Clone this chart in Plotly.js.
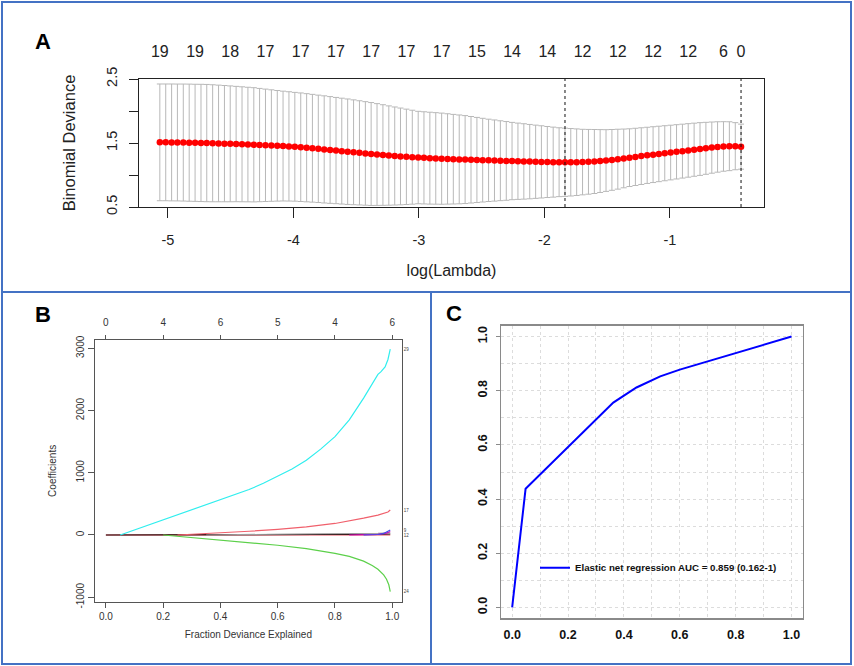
<!DOCTYPE html>
<html>
<head>
<meta charset="utf-8">
<script src="https://cdn.plot.ly/plotly-3.0.1.min.js"></script>
<style>html,body{margin:0;padding:0;background:#fff}#chart{width:854px;height:666px}</style>
</head>
<body>
<div id="chart"></div>
<script>
// ---------- Panel A: cross-validated binomial deviance ----------
const logLambda = [
-5.065,-5.018,-4.971,-4.925,-4.878,-4.831,-4.784,-4.737,-4.691,-4.644,
-4.597,-4.550,-4.504,-4.457,-4.410,-4.363,-4.316,-4.270,-4.223,-4.176,
-4.129,-4.083,-4.036,-3.989,-3.942,-3.895,-3.849,-3.802,-3.755,-3.708,
-3.661,-3.615,-3.568,-3.521,-3.474,-3.427,-3.381,-3.334,-3.287,-3.240,
-3.193,-3.147,-3.100,-3.053,-3.006,-2.960,-2.913,-2.866,-2.819,-2.772,
-2.726,-2.679,-2.632,-2.585,-2.538,-2.492,-2.445,-2.398,-2.351,-2.304,
-2.258,-2.211,-2.164,-2.117,-2.070,-2.024,-1.977,-1.930,-1.883,-1.836,
-1.790,-1.743,-1.696,-1.649,-1.602,-1.556,-1.509,-1.462,-1.415,-1.368,
-1.322,-1.275,-1.228,-1.181,-1.134,-1.088,-1.041,-0.994,-0.947,-0.900,
-0.854,-0.807,-0.760,-0.713,-0.666,-0.620,-0.573,-0.526,-0.479,-0.433];
const cvMean = [
1.510,1.510,1.509,1.508,1.507,1.505,1.503,1.501,1.499,1.496,
1.493,1.490,1.487,1.484,1.480,1.476,1.472,1.468,1.464,1.460,
1.456,1.452,1.447,1.441,1.434,1.426,1.418,1.409,1.400,1.391,
1.382,1.373,1.364,1.355,1.346,1.337,1.328,1.320,1.312,1.304,
1.297,1.290,1.284,1.278,1.273,1.268,1.263,1.259,1.255,1.251,
1.247,1.244,1.241,1.238,1.235,1.232,1.229,1.226,1.223,1.220,
1.218,1.215,1.212,1.209,1.207,1.205,1.203,1.201,1.200,1.199,
1.199,1.200,1.202,1.206,1.211,1.218,1.226,1.236,1.247,1.259,
1.271,1.283,1.295,1.307,1.318,1.329,1.340,1.351,1.362,1.373,
1.384,1.395,1.406,1.417,1.428,1.438,1.446,1.450,1.450,1.443];
const cvSE = [
0.912,0.912,0.913,0.913,0.914,0.915,0.915,0.916,0.916,0.914,
0.911,0.908,0.905,0.901,0.898,0.895,0.892,0.885,0.878,0.871,
0.864,0.858,0.854,0.850,0.848,0.845,0.842,0.839,0.837,0.834,
0.830,0.827,0.824,0.819,0.814,0.809,0.804,0.795,0.786,0.776,
0.766,0.756,0.745,0.734,0.722,0.720,0.718,0.715,0.712,0.706,
0.700,0.694,0.687,0.676,0.665,0.654,0.643,0.634,0.624,0.615,
0.604,0.596,0.589,0.581,0.572,0.564,0.555,0.547,0.538,0.533,
0.527,0.520,0.512,0.506,0.500,0.491,0.482,0.475,0.468,0.459,
0.451,0.447,0.443,0.439,0.436,0.433,0.430,0.427,0.424,0.421,
0.418,0.415,0.412,0.406,0.400,0.394,0.387,0.382,0.368,0.352];
const nzIndex = [0,6,12,18,24,30,36,42,48,54,60,66,72,78,84,90,96,99];
const nzLabels = ['19','19','18','17','17','17','17','17','17','15','14','14','12','12','12','12','6','0'];
const idxLambdaMin = 69;
const idxLambda1se = 99;
const aXTicks = [-5,-4,-3,-2,-1];
const aYTicks = [0.5,1,1.5,2,2.5];
const aYLabels = ['0.5','','1.5','','2.5'];

// ---------- Panel B: coefficient paths ----------
const dev29 = [0.05,0.1,0.15,0.2,0.25,0.3,0.35,0.4,0.45,0.5,0.55,0.6,0.65,0.7,0.75,0.8,0.85,0.9,0.93,0.95,0.96,0.975,0.985,0.993];
const coef29 = [0,80,165,250,320,400,480,560,640,730,830,940,1060,1200,1380,1580,1850,2200,2420,2580,2620,2700,2820,2985];
const dev17 = [0.25,0.3,0.4,0.5,0.6,0.7,0.8,0.85,0.9,0.95,0.97,0.985,0.993];
const coef17 = [0,10,35,60,90,130,185,225,270,320,345,370,400];
const dev24 = [0.2,0.3,0.4,0.5,0.6,0.7,0.8,0.85,0.9,0.93,0.95,0.97,0.98,0.988,0.993];
const coef24 = [0,-40,-80,-120,-165,-220,-295,-345,-420,-490,-550,-640,-710,-800,-910];
const devRed0 = [0,0.993];
const coefRed0 = [0,0];
const devBlack = [0,0.3,0.5,0.7,0.85,0.95,0.993];
const coefBlack = [0,0,2,5,8,12,16];
const devGray = [0.35,0.5,0.7,0.85,0.95,0.993];
const coefGray = [0,5,12,20,28,35];
const devMag = [0.85,0.9,0.95,0.98,0.993];
const coefMag = [0,3,10,30,55];
const devBlue = [0.9,0.95,0.97,0.985,0.993];
const coefBlue = [0,8,25,55,80];
const pathLabels = ['29','17','24','9','12'];
const bTopTicks = [0,0.2,0.4,0.6,0.8,1.0];
const bTopLabels = ['0','4','6','5','4','6'];
const bXTicks = [0,0.2,0.4,0.6,0.8,1.0];
const bYTicks = [-1000,0,1000,2000,3000];

// ---------- Panel C: ROC ----------
const fpr = [0,0.048,0.362,0.375,0.445,0.53,0.6,1.0];
const tpr = [0,0.438,0.756,0.765,0.812,0.853,0.878,1.0];
const rocName = 'Elastic net regression AUC = 0.859 (0.162-1)';

// ---------- geometry helpers (page pixels -> paper fractions) ----------
const W = 854, H = 666;
const px = v => v / W;
const py = v => 1 - v / H;

const FONT = 'Liberation Sans, Arial, sans-serif';
const last = a => a[a.length - 1];

const traces = [];
// A: error bars + mean points
traces.push({
  type: 'scatter', mode: 'markers', x: logLambda, y: cvMean,
  xaxis: 'x', yaxis: 'y',
  marker: {color: '#ff0000', size: 6.5, line: {width: 0}},
  error_y: {type: 'data', array: cvSE, visible: true, color: '#b8b8b8', thickness: 1, width: 3},
  showlegend: false, hoverinfo: 'x+y'
});
// A: top axis carrier (invisible)
traces.push({
  type: 'scatter', mode: 'markers', x: logLambda, y: cvMean, xaxis: 'x2', yaxis: 'y',
  marker: {opacity: 0}, showlegend: false, hoverinfo: 'skip'
});
// B: paths
const bPaths = [
  [devRed0, coefRed0, '#E8505E'],
  [devBlack, coefBlack, '#1a0000'],
  [devGray, coefGray, '#9E9E9E'],
  [devMag, coefMag, '#CD0BBC'],
  [devBlue, coefBlue, '#3F4FE8'],
  [dev24, coef24, '#5CD04A'],
  [dev17, coef17, '#F0606C'],
  [dev29, coef29, '#30EEEE']
];
bPaths.forEach(p => traces.push({
  type: 'scatter', mode: 'lines', x: p[0], y: p[1], xaxis: 'x3', yaxis: 'y3',
  line: {color: p[2], width: 1.2}, showlegend: false
}));
traces.push({type: 'scatter', mode: 'markers', x: dev29, y: coef29, xaxis: 'x4', yaxis: 'y3',
  marker: {opacity: 0}, showlegend: false, hoverinfo: 'skip'});
traces.push({type: 'scatter', mode: 'markers', x: dev29, y: coef29, xaxis: 'x3', yaxis: 'y4',
  marker: {opacity: 0}, showlegend: false, hoverinfo: 'skip'});
// C: ROC
traces.push({
  type: 'scatter', mode: 'lines', x: fpr, y: tpr, xaxis: 'x5', yaxis: 'y5',
  line: {color: '#0000ff', width: 2}, name: rocName, showlegend: true
});

const endVals = [last(coef29), last(coef17), last(coef24), last(coefBlue), last(coefRed0)];

const aTickFont = {family: FONT, size: 14.5, color: '#222'};
const bTickFont = {family: FONT, size: 10, color: '#333'};
const cTickFont = {family: FONT, size: 12.5, color: '#111', weight: 'bold'};
const cGrid = {showgrid: true, gridcolor: '#dcdcdc', griddash: 'dot', gridwidth: 1};

const layout = {
  width: W, height: H,
  margin: {l: 0, r: 0, t: 0, b: 0, pad: 0, autoexpand: false},
  paper_bgcolor: '#fff', plot_bgcolor: '#fff',
  showlegend: true,
  legend: {x: px(535), xanchor: 'left', y: py(567.7), yanchor: 'middle',
    bgcolor: 'rgba(0,0,0,0)', borderwidth: 0, itemwidth: 30,
    font: {family: FONT, size: 9.7, color: '#111', weight: 'bold'}},
  // ----- A -----
  xaxis: {domain: [px(139), px(764)], anchor: 'y', range: [-5.231, -0.250],
    tickvals: aXTicks, ticktext: aXTicks.map(String), ticks: 'outside', ticklen: 10, tickcolor: '#222',
    ticklabelstandoff: 9,
    showline: true, mirror: true, linecolor: '#222', linewidth: 1.2, showgrid: false, zeroline: false,
    tickfont: aTickFont, automargin: false,
    title: {text: 'log(Lambda)', font: {family: FONT, size: 16, color: '#222'}, standoff: 18}},
  xaxis2: {overlaying: 'x', anchor: 'y', side: 'top', range: [-5.231, -0.250],
    tickvals: nzIndex.map(i => logLambda[i]), ticktext: nzLabels, ticks: '', ticklabelstandoff: 18,
    showline: false, showgrid: false, zeroline: false, tickfont: {family: FONT, size: 16, color: '#222'}, automargin: false},
  yaxis: {domain: [py(207), py(79)], anchor: 'x', range: [0.5, 2.5],
    tickvals: aYTicks, ticktext: aYLabels, tickangle: -90, ticks: 'outside', ticklen: 9, tickcolor: '#222',
    ticklabelstandoff: 6,
    showline: true, mirror: true, linecolor: '#222', linewidth: 1.2, showgrid: false, zeroline: false,
    tickfont: aTickFont, automargin: false,
    title: {text: 'Binomial Deviance', font: {family: FONT, size: 16.5, color: '#222'}, standoff: 24}},
  // ----- B -----
  xaxis3: {domain: [px(95), px(401.7)], anchor: 'y3', range: [-0.038, 1.033],
    tickvals: bXTicks, ticktext: bXTicks.map(v => v.toFixed(1)), ticks: 'outside', ticklen: 5, tickcolor: '#555',
    showline: true, mirror: true, linecolor: '#555', linewidth: 1.2, showgrid: false, zeroline: false,
    tickfont: bTickFont, automargin: false,
    title: {text: 'Fraction Deviance Explained', font: {family: FONT, size: 10, color: '#333'}, standoff: 10}},
  xaxis4: {overlaying: 'x3', anchor: 'y3', side: 'top', range: [-0.038, 1.033],
    tickvals: bTopTicks, ticktext: bTopLabels, ticks: 'outside', ticklen: 4, tickcolor: '#555',
    ticklabelstandoff: 5,
    showline: false, showgrid: false, zeroline: false, tickfont: bTickFont, automargin: false},
  yaxis3: {domain: [py(601.7), py(340)], anchor: 'x3', range: [-1072, 3133],
    tickvals: bYTicks, ticktext: bYTicks.map(String), tickangle: -90, ticks: 'outside', ticklen: 6, tickcolor: '#555',
    showline: true, mirror: true, linecolor: '#555', linewidth: 1.2, showgrid: false, zeroline: false,
    tickfont: bTickFont, automargin: false,
    title: {text: 'Coefficients', font: {family: FONT, size: 10, color: '#333'}, standoff: 16}},
  yaxis4: {overlaying: 'y3', anchor: 'x3', side: 'right', range: [-1072, 3133],
    tickvals: endVals, ticktext: pathLabels, ticks: '', ticklabelstandoff: 1,
    showline: false, showgrid: false, zeroline: false,
    tickfont: {family: FONT, size: 4.5, color: '#444'}, automargin: false},
  // ----- C -----
  xaxis5: Object.assign({domain: [px(501), px(802.7)], anchor: 'y5', range: [-0.04, 1.04],
    dtick: 0.2, tick0: 0, tickformat: '.1f', ticks: '', showline: true, mirror: true,
    linecolor: '#8a8a8a', linewidth: 1.5, zeroline: false,
    minor: Object.assign({dtick: 0.1, tick0: 0}, cGrid),
    tickfont: cTickFont, ticklabelstandoff: 4, automargin: false}, cGrid),
  yaxis5: Object.assign({domain: [py(618.3), py(325.7)], anchor: 'x5', range: [-0.04, 1.04],
    dtick: 0.2, tick0: 0, tickformat: '.1f', tickangle: -90, ticks: 'outside', ticklen: 4, tickcolor: '#8a8a8a',
    showline: true, mirror: true, linecolor: '#8a8a8a', linewidth: 1.5, zeroline: false,
    minor: Object.assign({dtick: 0.1, tick0: 0}, cGrid),
    tickfont: cTickFont, ticklabelstandoff: 4, automargin: false}, cGrid),
  shapes: [
    // panel borders
    {type: 'rect', xref: 'paper', yref: 'paper', x0: px(2), x1: px(851), y0: py(292), y1: py(2),
      line: {color: '#4472C4', width: 2}},
    {type: 'rect', xref: 'paper', yref: 'paper', x0: px(2), x1: px(431), y0: py(664), y1: py(292),
      line: {color: '#4472C4', width: 2}},
    {type: 'rect', xref: 'paper', yref: 'paper', x0: px(431), x1: px(851), y0: py(664), y1: py(292),
      line: {color: '#4472C4', width: 2}},
    // lambda.min and lambda.1se
    {type: 'line', xref: 'x', yref: 'y domain', x0: logLambda[idxLambdaMin], x1: logLambda[idxLambdaMin], y0: 0, y1: 1,
      line: {color: '#111', width: 1, dash: 'dot'}},
    {type: 'line', xref: 'x', yref: 'y domain', x0: logLambda[idxLambda1se], x1: logLambda[idxLambda1se], y0: 0, y1: 1,
      line: {color: '#111', width: 1, dash: 'dot'}}
  ],
  annotations: [
    {text: '<b>A</b>', xref: 'paper', yref: 'paper', x: px(33), y: py(27), showarrow: false,
      font: {family: FONT, size: 22, color: '#000'}},
    {text: '<b>B</b>', xref: 'paper', yref: 'paper', x: px(33), y: py(314.5), showarrow: false,
      font: {family: FONT, size: 22, color: '#000'}},
    {text: '<b>C</b>', xref: 'paper', yref: 'paper', x: px(454), y: py(314), showarrow: false,
      font: {family: FONT, size: 22, color: '#000'}}
  ]
};

Plotly.newPlot('chart', traces, layout, {staticPlot: true, displayModeBar: false});
</script>
</body>
</html>
